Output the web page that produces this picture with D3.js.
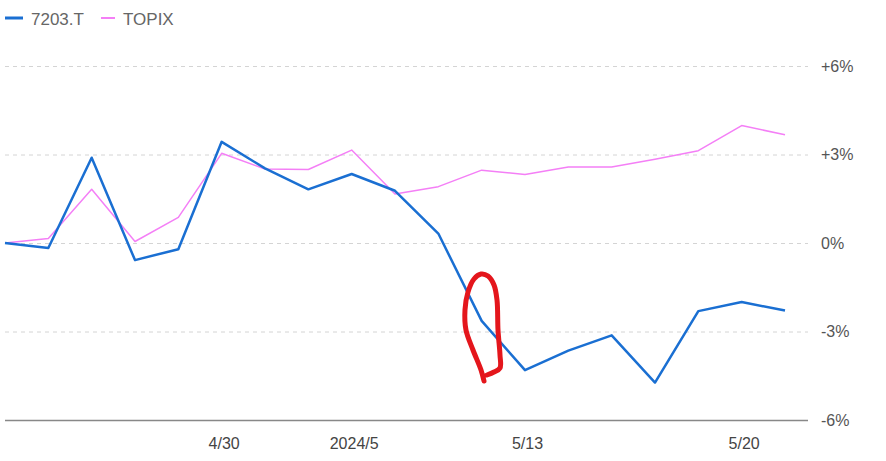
<!DOCTYPE html>
<html><head><meta charset="utf-8">
<script src="https://cdn.jsdelivr.net/npm/d3@7"></script>
<style>body{margin:0;background:#fff}svg{display:block}</style>
</head><body>
<svg id="c" width="886" height="461"></svg>
<script>
const dates = ["4/22","4/23","4/24","4/25","4/26","4/30","5/1","5/2","5/7","5/8","5/9","5/10","5/13","5/14","5/15","5/16","5/17","5/20","5/21"];
const stock = [0,-0.17,2.89,-0.58,-0.21,3.43,2.53,1.82,2.34,1.77,0.32,-2.64,-4.31,-3.65,-3.13,-4.73,-2.31,-2.0,-2.29];
const topix = [0,0.15,1.82,0.05,0.87,3.04,2.51,2.49,3.15,1.66,1.91,2.47,2.32,2.58,2.58,2.84,3.13,3.98,3.67];
const xTicks = ["4/30","5/7","5/13","5/20"];
const xTickLabels = {"4/30":"4/30","5/7":"2024/5","5/13":"5/13","5/20":"5/20"};
const yTicks = [-6,-3,0,3,6];
const seriesNames = ["7203.T","TOPIX"];
// hand-drawn annotation loop, in (index, percent) units
const markIdx = [11.054,10.985,10.800,10.638,10.615,10.685,10.823,10.985,11.146,11.285,11.354,11.377,11.423,11.423,11.285,11.123];
const markVal = [-4.678,-4.305,-3.627,-2.949,-2.271,-1.661,-1.220,-1.051,-1.119,-1.424,-1.932,-2.949,-3.797,-4.237,-4.373,-4.475];

const svg = d3.select("#c");
const x = d3.scalePoint().domain(dates).range([5,785]);
const xi = d3.scaleLinear().domain([0,dates.length-1]).range([5,785]);
const y = d3.scaleLinear().domain([-6,6]).range([420,66]);
const font = "'Liberation Sans', Arial, sans-serif";

// grid + y labels
const yAxis = d3.axisRight(y).tickValues(yTicks).tickSize(803)
  .tickFormat(d => (d>0?"+":"")+d+"%");
const ga = svg.append("g").attr("transform","translate(5,0)").call(yAxis);
ga.select(".domain").remove();
ga.selectAll(".tick line").attr("stroke", d => d===-6 ? "#888" : "#d4d4d4")
  .attr("stroke-width", d => d===-6 ? 1.5 : 1)
  .attr("stroke-dasharray", d => d===-6 ? null : "4,4");
ga.selectAll(".tick text").attr("x", 816).attr("fill","#555")
  .style("font-family",font).style("font-size","16px");

// x labels
const xAxis = d3.axisBottom(x).tickValues(xTicks).tickSize(0).tickFormat(d => xTickLabels[d]);
const gx = svg.append("g").attr("transform","translate(2,420)").call(xAxis);
gx.select(".domain").remove();
gx.selectAll(".tick text").attr("dy","1.6em").attr("fill","#444")
  .style("font-family",font).style("font-size","16px");

// lines
const line = d3.line().x((d,i)=>x(dates[i])).y(d=>y(d));
svg.append("path").datum(topix).attr("d",line).attr("fill","none")
  .attr("stroke","#f47ff6").attr("stroke-width",1.5).attr("stroke-linejoin","round");
svg.append("path").datum(stock).attr("d",line).attr("fill","none")
  .attr("stroke","#1a6fd2").attr("stroke-width",2.5).attr("stroke-linejoin","round");

// annotation
const mline = d3.line().x((d,i)=>xi(markIdx[i])).y(d=>y(d)).curve(d3.curveCatmullRom);
svg.append("path").datum(markVal).attr("d",mline).attr("fill","none")
  .attr("stroke","#e4161c").attr("stroke-width",5).attr("stroke-linecap","round").attr("stroke-linejoin","round");

// legend
const leg = [{n:seriesNames[0],c:"#1a6fd2",w:3,x:5,len:18},{n:seriesNames[1],c:"#f47ff6",w:2,x:101,len:14}];
leg.forEach(l=>{
  svg.append("line").attr("x1",l.x).attr("x2",l.x+l.len).attr("y1",18).attr("y2",18)
    .attr("stroke",l.c).attr("stroke-width",l.w);
  svg.append("text").attr("x",l.x+l.len+8).attr("y",25).text(l.n).attr("fill","#666")
    .style("font-family",font).style("font-size","17px");
});
</script>
</body></html>
